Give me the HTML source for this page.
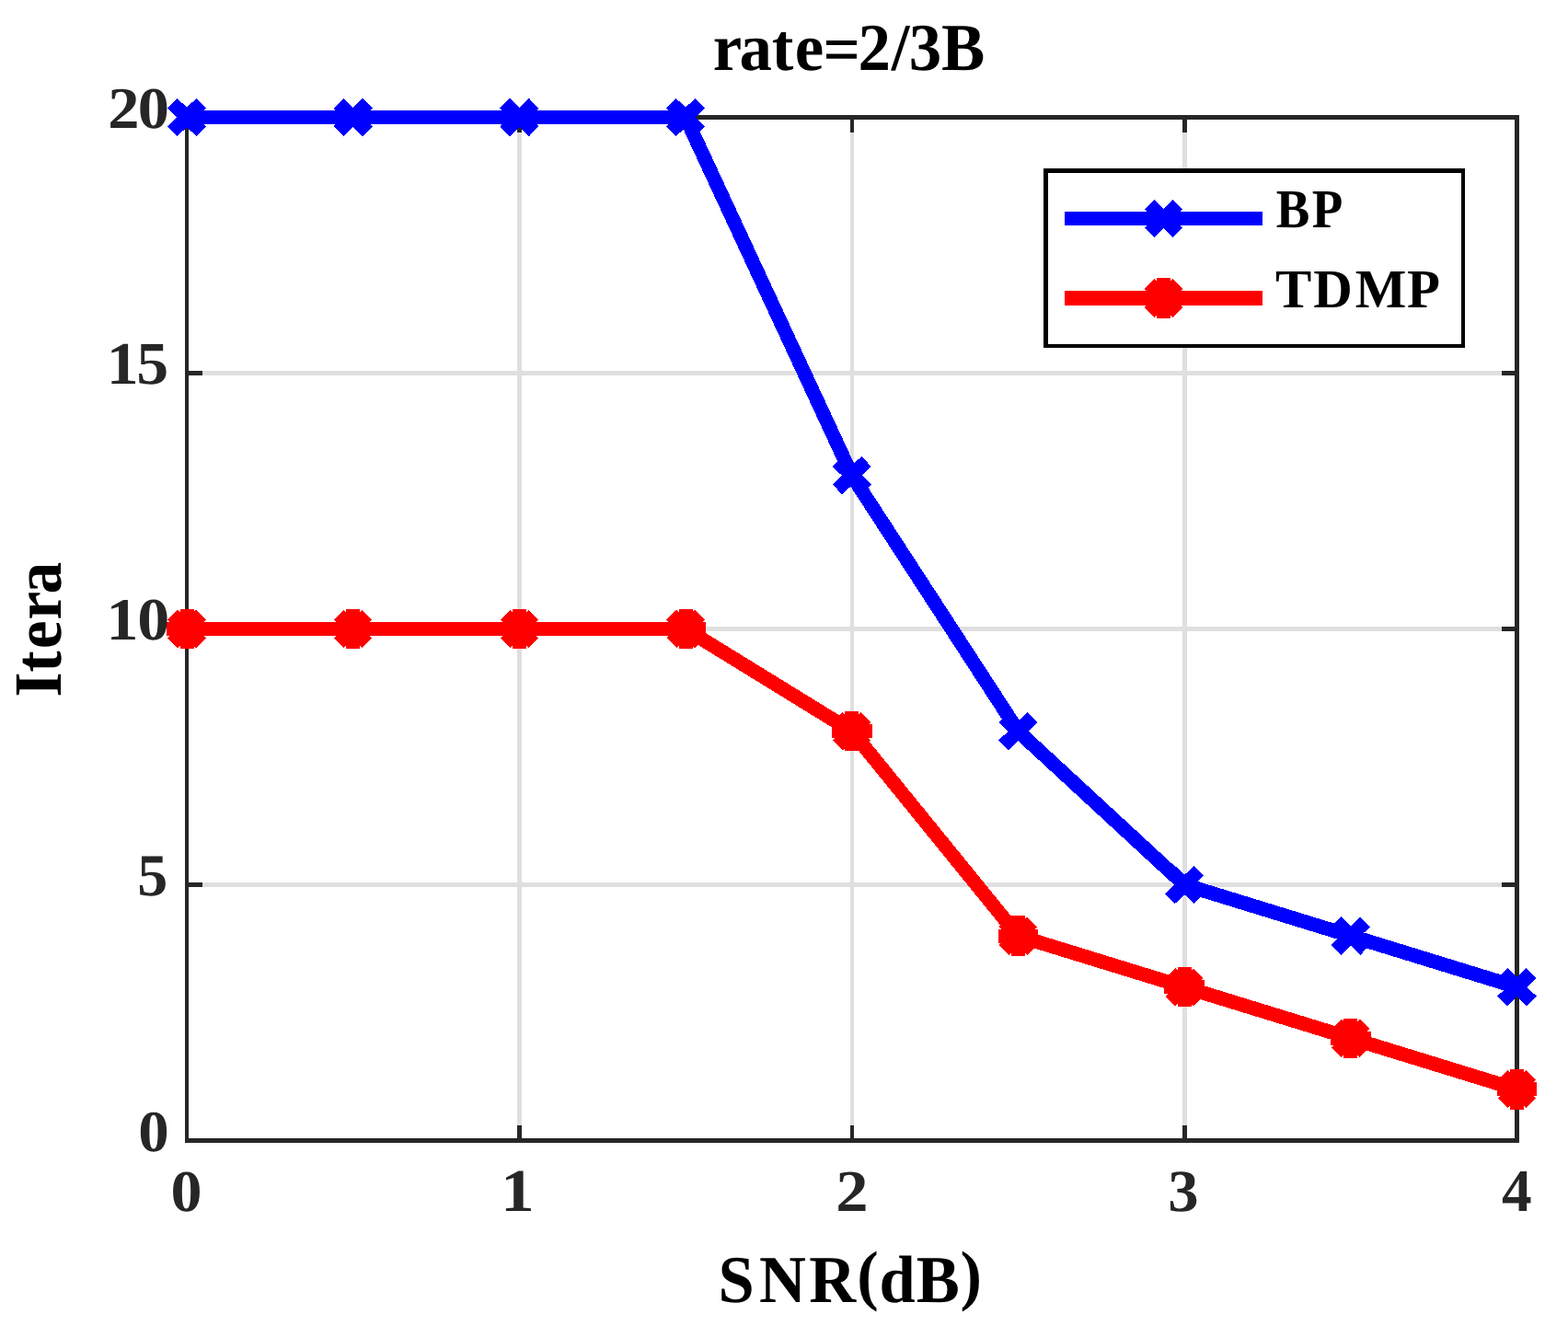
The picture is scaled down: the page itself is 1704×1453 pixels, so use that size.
<!DOCTYPE html>
<html lang="en"><head><meta charset="utf-8"><title>rate=2/3B</title>
<style>html,body{margin:0;padding:0;background:#fff}body{width:1704px;height:1453px;overflow:hidden}svg{display:block}text{font-family:"Liberation Serif",serif;font-weight:bold;text-rendering:geometricPrecision}</style>
</head><body>
<svg width="1704" height="1453" viewBox="0 0 1704 1453">
<rect x="0" y="0" width="1704" height="1453" fill="#ffffff"/>
<g id="grid">
<rect x="562" y="130" width="5" height="1107" fill="#dfdfdf"/>
<rect x="924" y="130" width="4" height="1107" fill="#dfdfdf"/>
<rect x="1285" y="130" width="5" height="1107" fill="#dfdfdf"/>
<rect x="205" y="403" width="1441" height="5" fill="#dfdfdf"/>
<rect x="205" y="681" width="1441" height="5" fill="#dfdfdf"/>
<rect x="205" y="959" width="1441" height="5" fill="#dfdfdf"/>
</g>
<g id="axes">
<rect x="201" y="125" width="1450" height="5" fill="#262626"/>
<rect x="201" y="1237" width="1450" height="5" fill="#262626"/>
<rect x="201" y="125" width="4" height="1117" fill="#262626"/>
<rect x="1646" y="125" width="5" height="1117" fill="#262626"/>
<rect x="562" y="1223" width="5" height="14" fill="#262626"/>
<rect x="562" y="130" width="5" height="14" fill="#262626"/>
<rect x="924" y="1223" width="4" height="14" fill="#262626"/>
<rect x="924" y="130" width="4" height="14" fill="#262626"/>
<rect x="1285" y="1223" width="5" height="14" fill="#262626"/>
<rect x="1285" y="130" width="5" height="14" fill="#262626"/>
<rect x="205" y="403" width="15" height="5" fill="#262626"/>
<rect x="1632" y="403" width="14" height="5" fill="#262626"/>
<rect x="205" y="681" width="15" height="5" fill="#262626"/>
<rect x="1632" y="681" width="14" height="5" fill="#262626"/>
<rect x="205" y="959" width="15" height="5" fill="#262626"/>
<rect x="1632" y="959" width="14" height="5" fill="#262626"/>
</g>
<g id="series-bp">
<polyline points="203.00,127.50 383.69,127.50 564.38,127.50 745.06,127.50 925.75,516.70 1106.44,794.70 1287.12,961.50 1467.81,1017.10 1648.50,1072.70" fill="none" stroke="#0000ff" stroke-width="15.4" stroke-linejoin="miter" stroke-linecap="butt" shape-rendering="crispEdges"/>
<path d="M187.25 112.23L218.75 142.77M187.25 142.77L218.75 112.23" fill="none" stroke="#0000ff" stroke-width="15.3" stroke-linecap="butt" shape-rendering="crispEdges"/>
<path d="M367.94 112.23L399.44 142.77M367.94 142.77L399.44 112.23" fill="none" stroke="#0000ff" stroke-width="15.3" stroke-linecap="butt" shape-rendering="crispEdges"/>
<path d="M548.62 112.23L580.12 142.77M548.62 142.77L580.12 112.23" fill="none" stroke="#0000ff" stroke-width="15.3" stroke-linecap="butt" shape-rendering="crispEdges"/>
<path d="M729.31 112.23L760.81 142.77M729.31 142.77L760.81 112.23" fill="none" stroke="#0000ff" stroke-width="15.3" stroke-linecap="butt" shape-rendering="crispEdges"/>
<path d="M910.00 501.43L941.50 531.97M910.00 531.97L941.50 501.43" fill="none" stroke="#0000ff" stroke-width="15.3" stroke-linecap="butt" shape-rendering="crispEdges"/>
<path d="M1090.69 779.43L1122.19 809.97M1090.69 809.97L1122.19 779.43" fill="none" stroke="#0000ff" stroke-width="15.3" stroke-linecap="butt" shape-rendering="crispEdges"/>
<path d="M1271.38 946.23L1302.88 976.77M1271.38 976.77L1302.88 946.23" fill="none" stroke="#0000ff" stroke-width="15.3" stroke-linecap="butt" shape-rendering="crispEdges"/>
<path d="M1452.06 1001.83L1483.56 1032.37M1452.06 1032.37L1483.56 1001.83" fill="none" stroke="#0000ff" stroke-width="15.3" stroke-linecap="butt" shape-rendering="crispEdges"/>
<path d="M1632.75 1057.43L1664.25 1087.97M1632.75 1087.97L1664.25 1057.43" fill="none" stroke="#0000ff" stroke-width="15.3" stroke-linecap="butt" shape-rendering="crispEdges"/>
</g>
<g id="series-tdmp">
<polyline points="203.00,683.50 383.69,683.50 564.38,683.50 745.06,683.50 925.75,794.70 1106.44,1017.10 1287.12,1072.70 1467.81,1128.30 1648.50,1183.90" fill="none" stroke="#ff0000" stroke-width="15.4" stroke-linejoin="miter" stroke-linecap="butt" shape-rendering="crispEdges"/>
<g transform="translate(203.00 683.50)" fill="#ff0000" shape-rendering="crispEdges"><rect x="-21.75" y="-7.5" width="43.5" height="15.0"/><rect x="-7.5" y="-21.75" width="15.0" height="43.5"/><rect x="-21.6" y="-7.5" width="43.2" height="15.0" transform="rotate(45)"/><rect x="-21.6" y="-7.5" width="43.2" height="15.0" transform="rotate(-45)"/></g>
<g transform="translate(383.69 683.50)" fill="#ff0000" shape-rendering="crispEdges"><rect x="-21.75" y="-7.5" width="43.5" height="15.0"/><rect x="-7.5" y="-21.75" width="15.0" height="43.5"/><rect x="-21.6" y="-7.5" width="43.2" height="15.0" transform="rotate(45)"/><rect x="-21.6" y="-7.5" width="43.2" height="15.0" transform="rotate(-45)"/></g>
<g transform="translate(564.38 683.50)" fill="#ff0000" shape-rendering="crispEdges"><rect x="-21.75" y="-7.5" width="43.5" height="15.0"/><rect x="-7.5" y="-21.75" width="15.0" height="43.5"/><rect x="-21.6" y="-7.5" width="43.2" height="15.0" transform="rotate(45)"/><rect x="-21.6" y="-7.5" width="43.2" height="15.0" transform="rotate(-45)"/></g>
<g transform="translate(745.06 683.50)" fill="#ff0000" shape-rendering="crispEdges"><rect x="-21.75" y="-7.5" width="43.5" height="15.0"/><rect x="-7.5" y="-21.75" width="15.0" height="43.5"/><rect x="-21.6" y="-7.5" width="43.2" height="15.0" transform="rotate(45)"/><rect x="-21.6" y="-7.5" width="43.2" height="15.0" transform="rotate(-45)"/></g>
<g transform="translate(925.75 794.70)" fill="#ff0000" shape-rendering="crispEdges"><rect x="-21.75" y="-7.5" width="43.5" height="15.0"/><rect x="-7.5" y="-21.75" width="15.0" height="43.5"/><rect x="-21.6" y="-7.5" width="43.2" height="15.0" transform="rotate(45)"/><rect x="-21.6" y="-7.5" width="43.2" height="15.0" transform="rotate(-45)"/></g>
<g transform="translate(1106.44 1017.10)" fill="#ff0000" shape-rendering="crispEdges"><rect x="-21.75" y="-7.5" width="43.5" height="15.0"/><rect x="-7.5" y="-21.75" width="15.0" height="43.5"/><rect x="-21.6" y="-7.5" width="43.2" height="15.0" transform="rotate(45)"/><rect x="-21.6" y="-7.5" width="43.2" height="15.0" transform="rotate(-45)"/></g>
<g transform="translate(1287.12 1072.70)" fill="#ff0000" shape-rendering="crispEdges"><rect x="-21.75" y="-7.5" width="43.5" height="15.0"/><rect x="-7.5" y="-21.75" width="15.0" height="43.5"/><rect x="-21.6" y="-7.5" width="43.2" height="15.0" transform="rotate(45)"/><rect x="-21.6" y="-7.5" width="43.2" height="15.0" transform="rotate(-45)"/></g>
<g transform="translate(1467.81 1128.30)" fill="#ff0000" shape-rendering="crispEdges"><rect x="-21.75" y="-7.5" width="43.5" height="15.0"/><rect x="-7.5" y="-21.75" width="15.0" height="43.5"/><rect x="-21.6" y="-7.5" width="43.2" height="15.0" transform="rotate(45)"/><rect x="-21.6" y="-7.5" width="43.2" height="15.0" transform="rotate(-45)"/></g>
<g transform="translate(1648.50 1183.90)" fill="#ff0000" shape-rendering="crispEdges"><rect x="-21.75" y="-7.5" width="43.5" height="15.0"/><rect x="-7.5" y="-21.75" width="15.0" height="43.5"/><rect x="-21.6" y="-7.5" width="43.2" height="15.0" transform="rotate(45)"/><rect x="-21.6" y="-7.5" width="43.2" height="15.0" transform="rotate(-45)"/></g>
</g>
<g id="legend">
<rect x="1134" y="183" width="458" height="195" fill="#000000"/>
<rect x="1139" y="188" width="449" height="186" fill="#ffffff"/>
<rect x="1157" y="230" width="215" height="15" fill="#0000ff"/>
<path d="M1249.30 222.40L1279.70 252.60M1249.30 252.60L1279.70 222.40" fill="none" stroke="#0000ff" stroke-width="15.3" stroke-linecap="butt" shape-rendering="crispEdges"/>
<rect x="1157" y="316" width="215" height="16" fill="#ff0000"/>
<g transform="translate(1264.50 324.00)" fill="#ff0000" shape-rendering="crispEdges"><rect x="-21.75" y="-7.5" width="43.5" height="15.0"/><rect x="-7.5" y="-21.75" width="15.0" height="43.5"/><rect x="-21.6" y="-7.5" width="43.2" height="15.0" transform="rotate(45)"/><rect x="-21.6" y="-7.5" width="43.2" height="15.0" transform="rotate(-45)"/></g>
</g>
<text transform="translate(0 76.00) scale(0.7088 0.7298)" x="1093.01 1133.53 1183.44 1218.64 1262.10 1315.48 1366.62 1393.70 1443.21" y="0.00 0.00 0.00 0.00 2.60 0.00 0.00 0.00 0.00" font-size="100" fill="#000000">rate=2/3B</text>
<text transform="translate(0 1414.80) scale(0.7055 0.7282)" x="1106.28 1169.51 1246.22 1319.94 1354.50 1411.53 1478.95" y="0.00 0.00 0.00 -6.04 0.00 0.00 -6.04" font-size="100" fill="#000000">SNR(dB)</text>
<text transform="translate(66.05 755.00) rotate(-90) scale(0.6957 0.7356)" x="-3.51 35.36 71.43 117.32 157.51" y="0" font-size="100" fill="#000000">Itera</text>
<text transform="translate(0 139.46) scale(0.6850 0.6400)" x="171.23 218.57" y="0" font-size="100" fill="#262626">20</text>
<text transform="translate(0 417.34) scale(0.6981 0.6552)" x="165.73 212.46" y="0" font-size="100" fill="#262626">15</text>
<text transform="translate(0 695.35) scale(0.7006 0.6519)" x="165.04 213.03" y="0" font-size="100" fill="#262626">10</text>
<text transform="translate(0 973.35) scale(0.6612 0.6496)" x="225.74" y="0" font-size="100" fill="#262626">5</text>
<text transform="translate(0 1251.26) scale(0.6690 0.6370)" x="224.53" y="0" font-size="100" fill="#262626">0</text>
<text transform="translate(0 1316.46) scale(0.6810 0.6400)" x="272.23" y="0" font-size="100" fill="#262626">0</text>
<text transform="translate(0 1316.20) scale(0.7351 0.6576)" x="739.89" y="0" font-size="100" fill="#262626">1</text>
<text transform="translate(0 1316.20) scale(0.7060 0.6409)" x="1286.32" y="0" font-size="100" fill="#262626">2</text>
<text transform="translate(0 1316.46) scale(0.6682 0.6448)" x="1899.37" y="0" font-size="100" fill="#262626">3</text>
<text transform="translate(0 1316.00) scale(0.6538 0.6530)" x="2496.04" y="0" font-size="100" fill="#262626">4</text>
<text transform="translate(0 246.90) scale(0.5492 0.5954)" x="2524.89 2595.94" y="0" font-size="100" fill="#000000">BP</text>
<text transform="translate(0 333.85) scale(0.5884 0.5962)" x="2355.66 2425.54 2502.85 2598.72" y="0" font-size="100" fill="#000000">TDMP</text>
</svg>
</body></html>
